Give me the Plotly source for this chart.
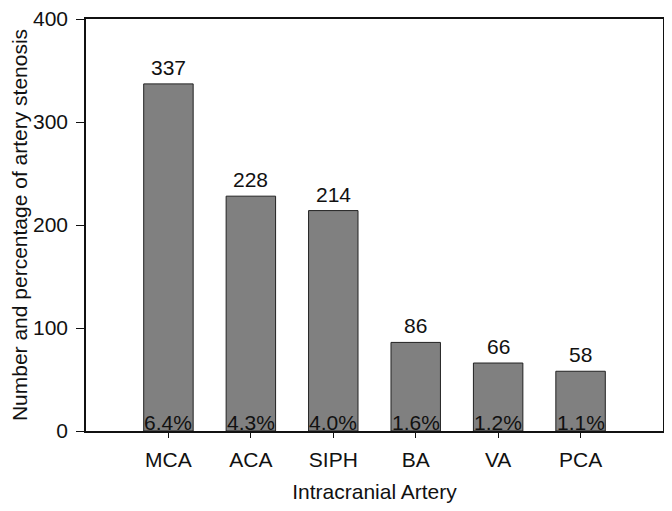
import plotly.graph_objs as go

arteries = ["MCA", "ACA", "SIPH", "BA", "VA", "PCA"]
counts = [337, 228, 214, 86, 66, 58]
percents = ["6.4%", "4.3%", "4.0%", "1.6%", "1.2%", "1.1%"]

font = "Liberation Sans, Arial, sans-serif"
size = 21

fig = go.Figure(go.Bar(
    x=arteries,
    y=counts,
    width=0.6,
    marker=dict(color="#808080", line=dict(color="#222222", width=1)),
    hoverinfo="x+y",
))

# counts above the bars, percentages at the foot of each bar
for name, n, pct in zip(arteries, counts, percents):
    fig.add_annotation(
        x=name, y=n, text=str(n), showarrow=False,
        xanchor="center", yanchor="bottom", yshift=3,
        font=dict(family=font, size=size, color="#111111"),
    )
    fig.add_annotation(
        x=name, y=0, text=pct, showarrow=False,
        xanchor="center", yanchor="bottom", yshift=-5,
        font=dict(family=font, size=size, color="#111111"),
    )

# the page body has an 8px default margin, so the figure is 8px smaller
fig.update_layout(
    width=664, height=503,
    margin=dict(l=78, r=9, t=11, b=80),
    plot_bgcolor="white", paper_bgcolor="white",
    showlegend=False,
    font=dict(family=font, size=size, color="#111111"),
)
fig.update_xaxes(
    range=[-1, 6], showline=True, mirror=True, linecolor="#111111", linewidth=1.5,
    ticks="outside", ticklen=5, tickcolor="#111111", automargin=False, ticklabelstandoff=4,
    title=dict(text="Intracranial Artery", font=dict(size=size), standoff=14),
    tickfont=dict(size=size), showgrid=False,
)
fig.update_yaxes(
    range=[0, 400], dtick=100, showline=True, mirror=True, linecolor="#111111", linewidth=1.5,
    ticks="outside", ticklen=8, tickcolor="#111111", automargin=False, ticklabelstandoff=4,
    ticklabeloverflow="allow",
    title=dict(text="Number and percentage of artery stenosis", font=dict(size=size), standoff=3),
    tickfont=dict(size=size), showgrid=False, zeroline=False,
)

fig.write_html("out.html")
